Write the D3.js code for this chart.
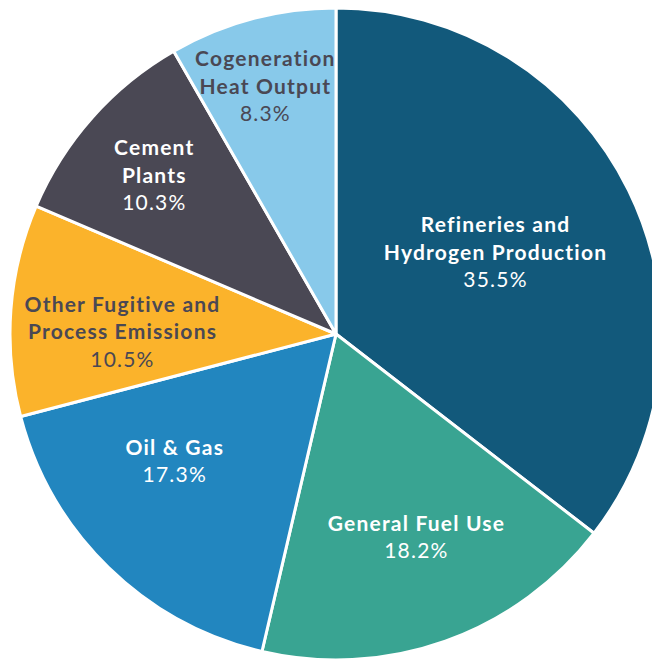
<!DOCTYPE html>
<html><head><meta charset="utf-8">
<script src="https://cdn.jsdelivr.net/npm/d3@7"></script>
<style>html,body{margin:0;padding:0;background:#fff;}svg{display:block;}</style>
</head><body>
<svg id="chart" width="652" height="660"></svg>
<script>
const categories = [
  ["Refineries and", "Hydrogen Production"],
  ["General Fuel Use"],
  ["Oil & Gas"],
  ["Other Fugitive and", "Process Emissions"],
  ["Cement", "Plants"],
  ["Cogeneration", "Heat Output"]
];
const values = [35.5, 18.2, 17.3, 10.5, 10.3, 8.3];
const colors = ["#12597b", "#39a492", "#2286bf", "#fbb32b", "#4a4854", "#88c9ea"];
const textColors = ["#ffffff", "#ffffff", "#ffffff", "#4a4854", "#ffffff", "#4a4854"];
// label layout: [radius fraction, angle offset in degrees]
const labelLayout = [[0.55, -1], [0.67, -2], [0.63, 7.5], [0.655, -3.6], [0.74, -0.5], [0.79, -1]];

const svg = d3.select("#chart");
const cx = 336, cy = 334, R = 326;
const g = svg.append("g").attr("transform", `translate(${cx},${cy})`);

const pie = d3.pie().sort(null).value(d => d);
const arcs = pie(values);
const arc = d3.arc().innerRadius(0).outerRadius(R);

g.selectAll("path").data(arcs).join("path")
  .attr("d", arc)
  .attr("fill", (d, i) => colors[i])
  .attr("stroke", "#fff")
  .attr("stroke-width", 3)
  .attr("stroke-linejoin", "round");

const lineH = 27.5;
arcs.forEach((a, i) => {
  const [rf, dAng] = labelLayout[i];
  const ang = (a.startAngle + a.endAngle) / 2 + dAng * Math.PI / 180;
  const x = Math.sin(ang) * R * rf, y = -Math.cos(ang) * R * rf;
  const lines = categories[i];
  const n = lines.length + 1;
  const t = g.append("text")
    .attr("text-anchor", "middle")
    .attr("font-family", "Lato, 'Open Sans', sans-serif")
    .attr("font-size", 21)
    .attr("letter-spacing", "1.2px")
    .attr("fill", textColors[i]);
  lines.forEach((ln, j) => {
    t.append("tspan").attr("x", x).attr("y", y + (j - (n - 1) / 2) * lineH)
      .attr("dy", "0.35em").attr("font-weight", 700).text(ln);
  });
  t.append("tspan").attr("x", x).attr("y", y + (n - 1 - (n - 1) / 2) * lineH)
    .attr("dy", "0.35em").attr("font-weight", 400).text(values[i].toFixed(1) + "%");
});
</script>
</body></html>
